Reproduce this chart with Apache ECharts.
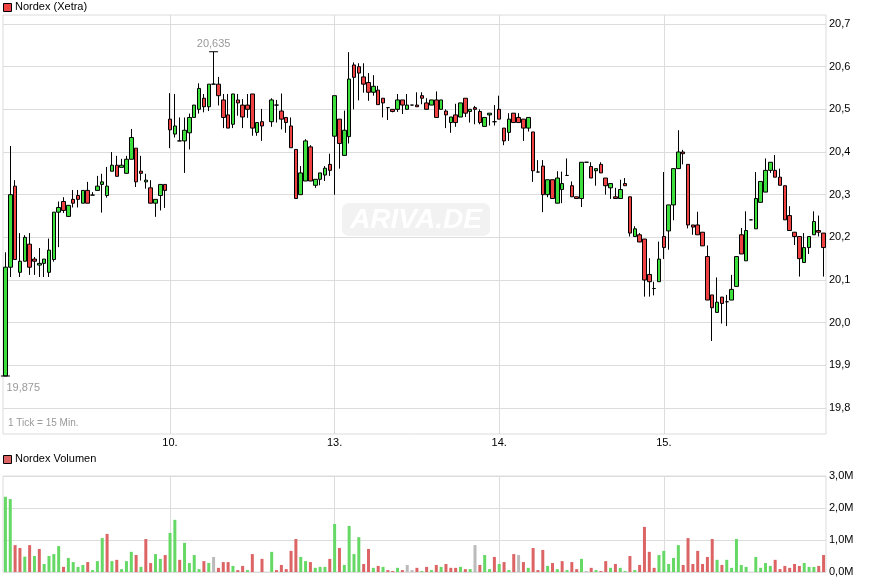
<!DOCTYPE html>
<html><head><meta charset="utf-8">
<script src="https://cdn.jsdelivr.net/npm/echarts@6/dist/echarts.min.js"></script>
<style>html,body{margin:0;padding:0;background:#fff}#c{width:871px;height:583px}</style>
</head><body><div id="c"></div>
<script>
// ---------- data ----------
const dayNames = ['09.', '10.', '13.', '14.', '15.'];
const slotTimes = ['09:00','09:15','09:30','09:45','10:00','10:15','10:30','10:45','11:00','11:15','11:30','11:45',
  '12:00','12:15','12:30','12:45','13:00','13:15','13:30','13:45','14:00','14:15','14:30','14:45',
  '15:00','15:15','15:30','15:45','16:00','16:15','16:30','16:45','17:00','17:15'];
const categories = [];
dayNames.forEach(d => slotTimes.forEach(t => categories.push(d + ' ' + t)));

const openP = [
19.875,20.130,20.320,20.118,20.144,20.184,20.149,20.135,20.139,20.118,
20.148,20.259,20.284,20.249,20.289,20.298,20.280,20.310,20.299,20.310,
20.324,20.298,20.355,20.369,20.364,20.350,20.383,20.409,20.355,20.330,
20.316,20.280,20.298,20.324,20.477,20.442,20.426,20.426,20.445,20.481,
20.500,20.526,20.506,20.559,20.559,20.522,20.487,20.465,20.522,20.510,
20.510,20.536,20.446,20.471,null,20.471,20.510,20.496,20.481,20.461,
20.406,20.300,20.332,20.412,20.322,20.336,20.346,20.371,20.437,20.477,
20.392,20.436,20.604,20.600,20.576,20.563,20.540,20.545,20.526,20.504,
20.500,20.500,20.522,20.500,20.510,20.510,20.532,20.515,20.510,20.522,
20.500,20.496,20.469,20.487,20.482,20.526,20.495,20.504,20.495,20.460,
20.487,20.471,20.500,20.456,20.446,20.491,20.481,20.477,20.456,20.447,
20.353,20.367,20.300,20.335,20.280,20.312,20.345,20.321,20.295,20.291,
20.376,20.366,20.356,20.371,20.339,20.316,20.295,20.291,20.326,20.295,
20.202,20.206,20.196,20.113,20.080,20.096,20.202,20.215,20.276,20.361,
20.400,20.371,20.229,20.229,20.212,20.155,20.065,20.024,20.060,20.049,
20.053,20.085,20.206,20.145,20.241,20.220,20.282,20.306,20.357,20.357,
20.341,20.321,20.251,20.212,20.202,20.141,20.176,20.206,20.216,20.210];
const closeP = [
20.130,20.300,20.148,20.144,20.200,20.130,20.144,20.139,20.149,20.170,
20.259,20.270,20.263,20.275,20.280,20.289,20.310,20.280,20.299,20.320,
20.330,20.320,20.369,20.343,20.369,20.383,20.434,20.330,20.350,20.334,
20.280,20.289,20.324,20.310,20.452,20.461,20.426,20.451,20.481,20.510,
20.549,20.506,20.559,20.559,20.532,20.481,20.456,20.536,20.515,20.482,
20.500,20.456,20.469,20.461,null,20.522,20.510,20.477,20.469,20.410,
20.291,20.351,20.426,20.332,20.336,20.351,20.362,20.357,20.532,20.420,
20.451,20.571,20.575,20.585,20.559,20.540,20.554,20.511,20.515,20.504,
20.495,20.522,20.510,20.510,20.510,20.506,20.526,20.500,20.522,20.481,
20.522,20.487,20.482,20.469,20.515,20.491,20.500,20.500,20.469,20.481,
20.491,20.471,20.477,20.426,20.477,20.469,20.469,20.456,20.481,20.356,
20.353,20.300,20.335,20.291,20.339,20.326,20.345,20.295,20.291,20.376,
20.376,20.339,20.361,20.351,20.321,20.326,20.291,20.312,20.321,20.210,
20.220,20.189,20.100,20.096,20.080,20.149,20.176,20.276,20.361,20.400,
20.396,20.229,20.224,20.206,20.180,20.053,20.035,20.048,20.045,20.049,
20.078,20.155,20.161,20.216,20.241,20.291,20.331,20.357,20.376,20.341,
20.322,20.241,20.216,20.202,20.150,20.176,20.202,20.237,20.212,20.176];
const lowP = [
19.875,20.107,20.148,20.107,20.144,20.112,20.112,20.107,20.107,20.107,
20.143,20.177,20.257,20.249,20.270,20.270,20.280,20.280,20.299,20.310,
20.258,20.293,20.355,20.343,20.364,20.350,20.383,20.318,20.333,20.314,
20.280,20.248,20.263,20.269,20.409,20.434,20.426,20.351,20.406,20.481,
20.490,20.493,20.496,20.559,20.509,20.456,20.456,20.456,20.485,20.456,
20.480,20.438,20.438,20.426,null,20.459,20.469,20.453,20.445,20.410,
20.291,20.300,20.332,20.332,20.316,20.322,20.332,20.344,20.300,20.361,
20.392,20.420,20.500,20.521,20.539,20.520,20.532,20.511,20.481,20.475,
20.493,20.494,20.489,20.500,20.510,20.506,20.512,20.500,20.510,20.481,
20.500,20.456,20.445,20.459,20.482,20.482,20.469,20.465,20.465,20.460,
20.462,20.462,20.477,20.416,20.426,20.469,20.469,20.426,20.448,20.330,
20.353,20.259,20.294,20.291,20.280,20.280,20.345,20.295,20.291,20.271,
20.376,20.339,20.321,20.351,20.300,20.290,20.291,20.291,20.321,20.202,
20.202,20.189,20.061,20.061,20.064,20.096,20.149,20.171,20.240,20.361,
20.371,20.221,20.206,20.206,20.180,20.053,19.957,20.024,19.998,19.992,
20.053,20.085,20.161,20.145,20.241,20.220,20.282,20.306,20.351,20.341,
20.322,20.241,20.216,20.182,20.108,20.141,20.161,20.206,20.202,20.108];
const highP = [
20.165,20.414,20.334,20.210,20.205,20.210,20.154,20.175,20.149,20.197,
20.259,20.284,20.294,20.275,20.311,20.311,20.310,20.330,20.306,20.344,
20.349,20.365,20.400,20.391,20.384,20.391,20.454,20.409,20.391,20.349,
20.334,20.289,20.324,20.324,20.538,20.536,20.481,20.481,20.490,20.510,
20.561,20.536,20.559,20.635,20.576,20.536,20.536,20.536,20.536,20.524,
20.536,20.536,20.469,20.501,null,20.526,20.522,20.537,20.481,20.481,
20.406,20.367,20.430,20.416,20.336,20.351,20.367,20.396,20.532,20.477,
20.497,20.634,20.610,20.608,20.608,20.585,20.580,20.555,20.526,20.504,
20.500,20.536,20.522,20.536,20.510,20.540,20.540,20.526,20.522,20.542,
20.522,20.500,20.482,20.513,20.515,20.526,20.500,20.508,20.500,20.481,
20.491,20.510,20.532,20.456,20.491,20.491,20.491,20.477,20.481,20.447,
20.381,20.381,20.335,20.335,20.355,20.354,20.385,20.331,20.295,20.376,
20.376,20.376,20.361,20.376,20.339,20.326,20.316,20.335,20.339,20.295,
20.226,20.210,20.196,20.151,20.096,20.190,20.353,20.276,20.361,20.451,
20.405,20.371,20.229,20.260,20.212,20.181,20.065,20.106,20.060,20.065,
20.112,20.155,20.222,20.261,20.241,20.353,20.331,20.385,20.376,20.393,
20.361,20.321,20.273,20.212,20.202,20.210,20.202,20.261,20.251,20.210];
// volume in millions
const volumeM = [
2.35,2.28,0.84,0.75,0.48,0.84,0.50,0.72,0.25,0.50,
0.56,0.81,0.16,0.44,0.31,0.16,0.22,0.31,0.06,0.34,
1.06,1.19,0.34,0.38,0.09,0.34,0.63,0.53,0.16,1.03,
0.28,0.56,0.41,0.53,1.22,1.63,0.38,0.91,0.28,0.53,
0.09,0.34,0.28,0.47,0.13,0.31,0.31,0.19,0.06,0.19,
0.06,0.56,0,0.41,0,0.63,0.06,0.22,0.09,0.66,
1.03,0.47,0.34,0.31,0.13,0.16,0.16,0.41,1.50,0.75,
0.22,1.44,0.56,1.09,0.25,0.72,0.13,0.19,0.16,0.06,
0.03,0.13,0.06,0.22,0.06,0.13,0.03,0.16,0.06,0.22,
0.16,0.25,0.13,0.13,0.16,0.09,0.09,0.84,0.22,0.53,
0.09,0.47,0.25,0.31,0.06,0.56,0.53,0.31,0.13,0.75,
0.06,0.69,0.19,0.28,0.09,0.34,0.06,0.31,0.09,0.41,
0.03,0.13,0.06,0.03,0.34,0.13,0.25,0.13,0.03,0.50,
0.06,0.22,1.41,0.63,0.13,0.53,0.66,0.25,0.44,0.84,
0.22,1.06,0.25,0.66,0.25,0.47,1.03,0.38,0.22,0.38,
0.13,1.03,0.22,0.16,0,0.47,0.13,0.28,0.19,0.38,
0.09,0.19,0.13,0.25,0.19,0.28,0.16,0.16,0.19,0.53];
const priceTicks = [19.8, 19.9, 20.0, 20.1, 20.2, 20.3, 20.4, 20.5, 20.6, 20.7];
const dayTickIndex = [34, 68, 102, 136];
const dayTickLabels = ['10.', '13.', '14.', '15.'];
const highIdx = 43, lowIdx = 0;

// ---------- build ----------
const UP = '#3ddf3d', DOWN = '#ef4141';
const VUP = '#66d866', VDOWN = '#dc6464', VFLAT = '#bbbbbb';
const GRIDC = '#dcdcdc';
const FONT = "'Liberation Sans', Arial, sans-serif";
const fmtC = (v, d) => v.toFixed(d).replace('.', ',');

const candleData = openP.map((o, i) => o == null ? '-' : [o, closeP[i], lowP[i], highP[i]]);
let prevClose = null;
const volData = volumeM.map((v, i) => {
  let col = VUP;
  if (closeP[i] != null) {
    if (prevClose != null) col = closeP[i] > prevClose ? VUP : (closeP[i] < prevClose ? VDOWN : VFLAT);
    prevClose = closeP[i];
  }
  return { value: v * 1e6, itemStyle: { color: col } };
});

const N = categories.length;
const gridL = 3, gridR = 45;
const pxPer = 426.67; // px per 1.0 price
const chart = echarts.init(document.getElementById('c'), null, { renderer: 'canvas' });

const axisLabelStyle = { color: '#000', fontSize: 11, fontFamily: FONT };

chart.setOption({
  animation: false,
  backgroundColor: '#fff',
  grid: [
    { left: gridL, right: gridR, top: 15, height: 419, show: true, borderColor: GRIDC, borderWidth: 1 },
    { left: gridL, right: gridR, top: 476, height: 96, show: true, borderColor: GRIDC, borderWidth: 1 }
  ],
  xAxis: [
    { type: 'category', gridIndex: 0, position: 'bottom', data: categories, boundaryGap: true, axisLine: { show: false }, axisTick: { show: false }, axisLabel: { show: false }, splitLine: { show: false } },
    { type: 'value', gridIndex: 0, position: 'bottom', offset: 0, min: -0.5, max: N - 0.5, axisLine: { show: false },
      axisTick: { show: false, customValues: dayTickIndex },
      axisLabel: { show: true, customValues: dayTickIndex, margin: 3, formatter: v => dayTickLabels[dayTickIndex.indexOf(Math.round(v))] || '', ...axisLabelStyle },
      splitLine: { show: true, lineStyle: { color: GRIDC, width: 1 } } },
    { type: 'category', gridIndex: 1, position: 'bottom', data: categories, boundaryGap: true, axisLine: { show: false }, axisTick: { show: false }, axisLabel: { show: false }, splitLine: { show: false } },
    { type: 'value', gridIndex: 1, position: 'bottom', min: -0.5, max: N - 0.5, axisLine: { show: false },
      axisTick: { show: false, customValues: dayTickIndex }, axisLabel: { show: false },
      splitLine: { show: true, lineStyle: { color: GRIDC, width: 1 } } }
  ],
  yAxis: [
    { type: 'value', gridIndex: 0, position: 'right',
      min: 19.8 - 26 / pxPer, max: 20.7 + 9 / pxPer,
      axisLine: { show: false },
      axisTick: { show: false, customValues: priceTicks },
      axisLabel: { margin: 3, customValues: priceTicks, formatter: v => fmtC(v, 1), ...axisLabelStyle },
      splitLine: { show: true, lineStyle: { color: GRIDC, width: 1 } } },
    { type: 'value', gridIndex: 1, position: 'right', min: 0, max: 3e6, interval: 1e6,
      axisLine: { show: false }, axisTick: { show: false },
      axisLabel: { margin: 3, formatter: v => fmtC(v / 1e6, 1) + 'M', ...axisLabelStyle },
      splitLine: { show: true, lineStyle: { color: GRIDC, width: 1 } } }
  ],
  series: [
    { type: 'candlestick', xAxisIndex: 0, yAxisIndex: 0, data: candleData, barWidth: 4,
      itemStyle: { color: UP, color0: DOWN, borderColor: '#000', borderColor0: '#000', borderColorDoji: '#000', borderWidth: 1 },
      markPoint: {
        symbol: 'rect', symbolSize: [9, 1], itemStyle: { color: '#000' }, animation: false,
        data: [
          { coord: [categories[highIdx], highP[highIdx]], label: { show: true, position: 'top', distance: 2, formatter: fmtC(highP[highIdx], 3), color: '#999', fontSize: 11, fontFamily: FONT } },
          { coord: [categories[lowIdx], lowP[lowIdx]], label: { show: true, position: 'bottom', distance: 6, align: 'left', offset: [1, 0], formatter: fmtC(lowP[lowIdx], 3), color: '#999', fontSize: 11, fontFamily: FONT } }
        ]
      }
    },
    { type: 'bar', xAxisIndex: 2, yAxisIndex: 1, data: volData, barWidth: 3 }
  ],
  graphic: [
    { type: 'group', left: 342, top: 203, z: 0, children: [
      { type: 'rect', shape: { x: 0, y: 0, width: 148, height: 33, r: 7 }, style: { fill: '#f2f2f2' } },
      { type: 'text', x: 74, y: 17, style: { text: 'ARIVA.DE', fill: '#ffffff', font: "italic bold 28px 'Liberation Sans'", align: 'center', verticalAlign: 'middle' } }
    ]},
    { type: 'rect', left: 3, top: 3, shape: { width: 8, height: 8 }, style: { fill: '#ee4444', stroke: '#000', lineWidth: 1 }, z: 10 },
    { type: 'text', left: 15, top: 1, style: { text: 'Nordex (Xetra)', fill: '#000', font: "11px 'Liberation Sans'" }, z: 10 },
    { type: 'rect', left: 3, top: 455, shape: { width: 8, height: 8 }, style: { fill: '#dc6464', stroke: '#000', lineWidth: 1 }, z: 10 },
    { type: 'text', left: 15, top: 453, style: { text: 'Nordex Volumen', fill: '#000', font: "11px 'Liberation Sans'" }, z: 10 },
    { type: 'text', left: 8, top: 418, style: { text: '1 Tick = 15 Min.', fill: '#999', font: "10px 'Liberation Sans'" }, z: 10 }
  ]
});
</script></body></html>
